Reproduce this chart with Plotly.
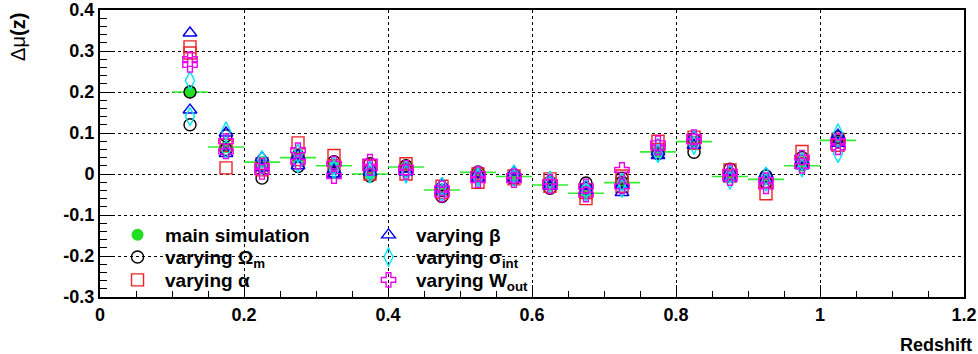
import plotly.graph_objects as go

# ---- data ----
z_bins = [0.125, 0.175, 0.225, 0.275, 0.325, 0.375, 0.425, 0.475, 0.525, 0.575,
          0.625, 0.675, 0.725, 0.775, 0.825, 0.875, 0.925, 0.975, 1.025]
bin_half_width = 0.025

main_sim = [0.200, 0.066, 0.029, 0.040, 0.020, 0.000, 0.017, -0.039, 0.004, -0.006,
            -0.027, -0.047, -0.021, 0.054, 0.079, -0.006, -0.013, 0.020, 0.082]

omega_up = [0.200, 0.093, 0.020, 0.045, 0.030, 0.025, 0.020, -0.040, 0.005, -0.005,
            -0.020, -0.022, -0.010, 0.060, 0.085, 0.012, -0.005, 0.040, 0.090]
omega_dn = [0.120, 0.060, -0.010, 0.018, 0.005, -0.005, 0.010, -0.055, -0.005, -0.012,
            -0.035, -0.035, -0.020, 0.050, 0.053, 0.000, -0.020, 0.025, 0.080]

alpha_up = [0.310, 0.070, 0.025, 0.076, 0.045, 0.020, 0.025, -0.030, 0.000, -0.005,
            -0.012, -0.045, -0.005, 0.080, 0.090, 0.010, -0.020, 0.055, 0.085]
alpha_dn = [0.295, 0.015, 0.010, 0.035, 0.020, 0.000, 0.000, -0.045, -0.020, -0.012,
            -0.030, -0.060, -0.030, 0.060, 0.075, -0.005, -0.048, 0.030, 0.070]

beta_up = [0.344, 0.100, 0.040, 0.045, 0.010, 0.015, 0.012, -0.025, 0.000, 0.005,
           -0.020, -0.030, -0.025, 0.055, 0.090, 0.005, 0.000, 0.035, 0.095]
beta_dn = [0.156, 0.050, 0.015, 0.020, 0.000, 0.005, 0.005, -0.040, -0.010, -0.010,
           -0.030, -0.040, -0.045, 0.045, 0.070, -0.010, -0.015, 0.020, 0.075]

sigma_up = [0.228, 0.105, 0.035, 0.050, 0.020, 0.010, 0.010, -0.030, -0.005, 0.000,
            -0.015, -0.035, -0.020, 0.065, 0.085, 0.000, -0.005, 0.030, 0.100]
sigma_dn = [0.140, 0.060, 0.020, 0.025, 0.010, 0.000, 0.000, -0.045, -0.010, -0.010,
            -0.025, -0.045, -0.035, 0.050, 0.070, -0.015, -0.020, 0.015, 0.050]

wout_up = [0.280, 0.080, 0.020, 0.058, 0.025, 0.030, 0.015, -0.035, 0.000, -0.005,
           -0.020, -0.030, 0.010, 0.075, 0.090, 0.005, -0.015, 0.040, 0.080]
wout_dn = [0.266, 0.055, 0.005, 0.030, -0.005, 0.015, 0.005, -0.050, -0.015, -0.015,
           -0.030, -0.050, -0.030, 0.065, 0.080, -0.010, -0.030, 0.020, 0.065]

x_tickvals = [0, 0.2, 0.4, 0.6, 0.8, 1.0, 1.2]
x_ticktext = ["0", "0.2", "0.4", "0.6", "0.8", "1", "1.2"]
y_tickvals = [-0.3, -0.2, -0.1, 0, 0.1, 0.2, 0.3, 0.4]
y_ticktext = ["-0.3", "-0.2", "-0.1", "0", "0.1", "0.2", "0.3", "0.4"]

FONT = "Liberation Sans, Arial, Helvetica, sans-serif"

fig = go.Figure()

# main simulation (green, with bin-width horizontal bars)
fig.add_trace(go.Scatter(
    x=z_bins, y=main_sim, mode="markers", name="main simulation",
    marker=dict(symbol="circle", size=12, color="#22dd22",
                line=dict(color="#22dd22", width=0)),
    error_x=dict(type="constant", value=bin_half_width, color="#33ee33",
                 thickness=1.6, width=0),
    legend="legend", showlegend=True,
))

def varying(name, up, dn, symbol, color, size, legend):
    fig.add_trace(go.Scatter(
        x=z_bins + z_bins, y=up + dn, mode="markers", name=name,
        marker=dict(symbol=symbol, size=size, color=color,
                    line=dict(color=color, width=1.4)),
        legend=legend, showlegend=True,
    ))

varying("varying \u03a9<sub>m</sub>", omega_up, omega_dn, "circle-open", "#000000", 12, "legend2")
varying("varying \u03b1", alpha_up, alpha_dn, "square-open", "#ee2222", 12, "legend3")
varying("varying \u03b2", beta_up, beta_dn, "triangle-up-open", "#0000ee", 12, "legend4")
varying("varying \u03c3<sub>int</sub>", sigma_up, sigma_dn, "diamond-tall-open", "#00e5ee", 13, "legend5")
varying("varying W<sub>out</sub>", wout_up, wout_dn, "cross-open", "#ee00ee", 12, "legend6")

axis_common = dict(
    showline=True, linecolor="black", linewidth=2, mirror=True,
    ticks="inside", tickcolor="black", tickwidth=1,
    showgrid=True, gridcolor="black", gridwidth=1, griddash="dot",
    zeroline=False, automargin=False,
    tickfont=dict(family=FONT, size=18, color="black", weight="bold"),
)

fig.update_xaxes(**axis_common, range=[0, 1.2], tickvals=x_tickvals,
                 ticktext=x_ticktext, ticklen=12,
                 minor=dict(dtick=0.05, ticks="inside", ticklen=6,
                            tickcolor="black", showgrid=False))
fig.update_yaxes(**axis_common, range=[-0.3, 0.4], tickvals=y_tickvals,
                 ticktext=y_ticktext, ticklen=14,
                 minor=dict(dtick=0.02, ticks="inside", ticklen=7,
                            tickcolor="black", showgrid=False))

legend_font = dict(family=FONT, size=19, color="black", weight="bold")

def legend_box(x, y):
    return dict(x=x, y=y, xanchor="left", yanchor="middle",
                bgcolor="rgba(0,0,0,0)", borderwidth=0, visible=True,
                font=legend_font, itemsizing="trace", itemwidth=45)

col1_x, col2_x = 0.0116, 0.3021
row_y = [0.216, 0.139, 0.059]

fig.update_layout(
    width=978, height=354, showlegend=True,
    margin=dict(l=100, r=14, t=10, b=57, autoexpand=False),
    paper_bgcolor="white", plot_bgcolor="white",
    font=dict(family=FONT, color="black"),
    legend=legend_box(col1_x, row_y[0]),
    legend2=legend_box(col1_x, row_y[1]),
    legend3=legend_box(col1_x, row_y[2]),
    legend4=legend_box(col2_x, row_y[0]),
    legend5=legend_box(col2_x, row_y[1]),
    legend6=legend_box(col2_x, row_y[2]),
    annotations=[
        dict(text="Redshift", x=1.0116, y=-0.167, xref="paper", yref="paper",
             xanchor="right", yanchor="middle", showarrow=False,
             font=dict(family=FONT, size=18, color="black", weight="bold")),
        dict(text="\u0394\u03bc<b>(z)</b>", x=-0.095, y=0.906, xref="paper", yref="paper",
             xanchor="center", yanchor="middle", showarrow=False, textangle=-90,
             font=dict(family=FONT, size=20, color="black")),
    ],
)

fig.write_html("out.html", config={"displayModeBar": False},
               post_script="document.body.style.margin='0';document.body.style.overflow='hidden';")
